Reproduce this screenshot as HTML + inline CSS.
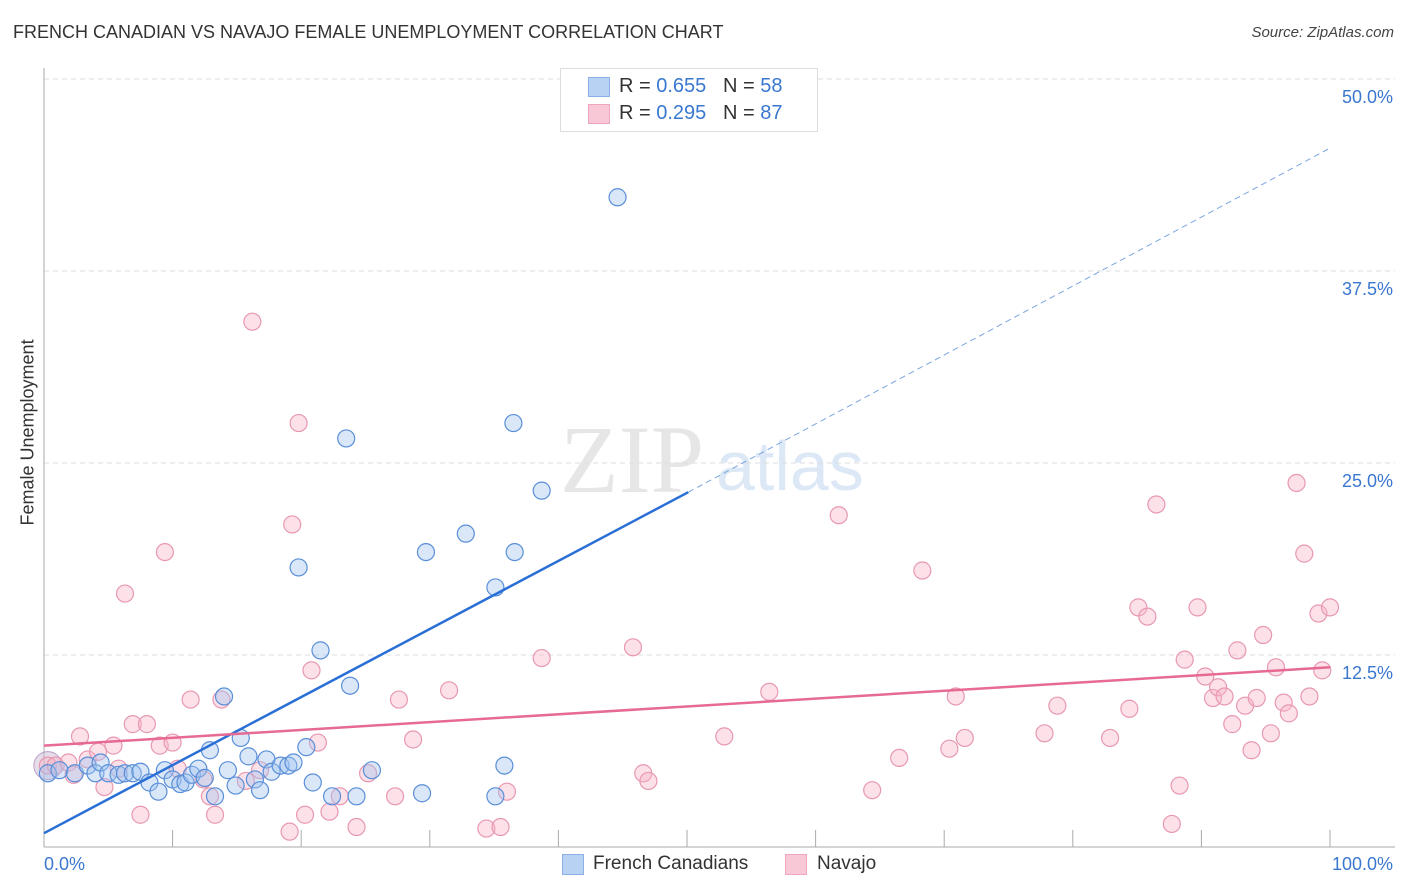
<!DOCTYPE html>
<html><head><meta charset="utf-8"><style>
body{margin:0;background:#fff;font-family:"Liberation Sans",sans-serif;}
#wrap{position:relative;width:1406px;height:892px;overflow:hidden;}
.t{position:absolute;white-space:nowrap;}
</style></head><body>
<div id="wrap">
<div class="t" style="left:13px;top:22px;font-size:18px;color:#333;">FRENCH CANADIAN VS NAVAJO FEMALE UNEMPLOYMENT CORRELATION CHART</div>
<div class="t" style="right:12px;top:24px;font-size:15px;color:#444;font-style:italic;">Source: ZipAtlas.com</div>
<div class="t" style="left:-42px;top:445px;font-size:18px;color:#333;transform:rotate(-90deg);width:140px;text-align:center;">Female Unemployment</div>
<svg id="svg" width="1406" height="892" style="position:absolute;left:0;top:0">
<text x="560" y="492" font-family="Liberation Serif" font-size="96" fill="#e6e6e6">ZIP</text>
<text x="716" y="490" font-family="Liberation Sans" font-size="70" fill="#dce8f6">atlas</text>
</svg>
<div style="position:absolute;left:560px;top:68px;width:256px;height:62px;border:1px solid #ddd;background:#fff;">
<div style="position:absolute;left:27px;top:8px;width:20px;height:18px;background:#b8d2f4;border:1px solid #8ab0e6;"></div>
<div class="t" style="left:58px;top:6px;font-size:20px;color:#333;">R = <span style="color:#3a78d0">0.655</span>&nbsp;&nbsp;&nbsp;N = <span style="color:#3a78d0">58</span></div>
<div style="position:absolute;left:27px;top:35px;width:20px;height:18px;background:#f8c8d6;border:1px solid #eea6bc;"></div>
<div class="t" style="left:58px;top:33px;font-size:20px;color:#333;">R = <span style="color:#3a78d0">0.295</span>&nbsp;&nbsp;&nbsp;N = <span style="color:#3a78d0">87</span></div>
</div>
<div>
<div style="position:absolute;left:562px;top:854px;width:20px;height:19px;background:#b8d2f4;border:1px solid #8ab0e6;"></div>
<div class="t" style="left:593px;top:853px;font-size:19px;color:#333;">French Canadians</div>
<div style="position:absolute;left:785px;top:854px;width:20px;height:19px;background:#f8c8d6;border:1px solid #eea6bc;"></div>
<div class="t" style="left:817px;top:853px;font-size:19px;color:#333;">Navajo</div>
</div>
</div>
<script>
const blueX=[0.3,1.2,2.4,3.4,4.0,4.4,5.0,5.8,6.3,6.9,7.5,8.2,8.9,9.4,10.0,10.6,11.0,11.5,12.0,12.5,12.9,13.3,14.0,14.3,14.9,15.3,15.9,16.4,16.8,17.3,17.7,18.4,19.0,19.4,19.8,20.4,20.9,21.5,22.4,23.5,23.8,24.3,25.5,29.4,29.7,32.8,35.1,35.1,35.8,36.5,36.6,38.7,44.6];
const blueY=[4.8,5.0,4.8,5.3,4.8,5.5,4.8,4.7,4.8,4.8,4.9,4.2,3.6,5.0,4.4,4.1,4.2,4.7,5.1,4.5,6.3,3.3,9.8,5.0,4.0,7.1,5.9,4.4,3.7,5.7,4.9,5.3,5.3,5.5,18.2,6.5,4.2,12.8,3.3,26.6,10.5,3.3,5.0,3.5,19.2,20.4,16.9,3.3,5.3,27.6,19.2,23.2,42.3];
const pinkX=[0.3,0.9,1.9,2.3,2.8,3.4,4.2,4.7,5.4,5.8,6.3,6.9,7.5,8.0,9.0,9.4,10.0,10.4,11.4,12.4,12.9,13.3,13.8,15.7,16.2,16.8,19.1,19.3,19.8,20.3,20.8,21.3,22.2,23.0,24.3,25.2,27.3,27.6,28.7,31.5,34.4,35.5,36.0,38.7,45.8,46.6,47.0,52.9,56.4,61.8,64.4,66.5,68.3,70.4,70.9,71.6,77.8,78.8,82.9,84.4,85.1,85.8,86.5,87.7,88.3,88.7,89.7,90.3,90.9,91.3,91.8,92.4,92.8,93.4,93.9,94.3,94.8,95.4,95.8,96.4,96.8,97.4,98.0,98.4,99.1,99.4,100];
const pinkY=[5.3,5.3,5.5,4.7,7.2,5.7,6.2,3.9,6.6,5.1,16.5,8.0,2.1,8.0,6.6,19.2,6.8,5.1,9.6,4.4,3.3,2.1,9.6,4.3,34.2,5.0,1.0,21.0,27.6,2.1,11.5,6.8,2.3,3.3,1.3,4.8,3.3,9.6,7.0,10.2,1.2,1.3,3.6,12.3,13.0,4.8,4.3,7.2,10.1,21.6,3.7,5.8,18.0,6.4,9.8,7.1,7.4,9.2,7.1,9.0,15.6,15.0,22.3,1.5,4.0,12.2,15.6,11.1,9.7,10.4,9.8,8.0,12.8,9.2,6.3,9.7,13.8,7.4,11.7,9.4,8.7,23.7,19.1,9.8,15.2,11.5,15.6];
const yTicks=[12.5,25.0,37.5,50.0];
const yTickLabels=["12.5%","25.0%","37.5%","50.0%"];
const xTickLabels=["0.0%","100.0%"];
const blueTrend=[0.0,0.9,50.1,23.1,100,45.5];
const pinkTrend=[0,6.6,100,11.7];

const X0=44,X1=1330,Y0=847,YPX=15.36;
const sx=v=>X0+(X1-X0)*v/100;
const sy=v=>Y0-v*YPX;
const svg=document.getElementById('svg');
const NS='http://www.w3.org/2000/svg';
function mk(t,a){const e=document.createElementNS(NS,t);for(const k in a)e.setAttribute(k,a[k]);svg.appendChild(e);return e;}
yTicks.forEach((v,i)=>{
 const g=mk('line',{x1:X0,x2:1395,y1:sy(v),y2:sy(v),stroke:'#ddd','stroke-dasharray':'5,4'});
 
 
 const t=mk('text',{x:1393,y:sy(v)+24,'text-anchor':'end','font-size':18,fill:'#3a78d0','font-family':'Liberation Sans'});
 t.textContent=yTickLabels[i];
 
 
});
const ax=mk('line',{x1:X0,x2:X0,y1:68,y2:Y0,stroke:'#aaa'});


const bx=mk('line',{x1:X0,x2:1395,y1:Y0,y2:Y0,stroke:'#aaa'});


for(let i=1;i<=10;i++){
 const tk=mk('line',{x1:sx(i*10),x2:sx(i*10),y1:Y0-17,y2:Y0,stroke:'#aaa'});
 
 
}
[[0,'start',44],[100,'end',1393]].forEach((a,i)=>{
 const t=mk('text',{x:a[2],y:870,'text-anchor':a[1],'font-size':18,fill:'#3a78d0','font-family':'Liberation Sans'});
 t.textContent=xTickLabels[i];
 
 
});
const big=mk('circle',{cx:sx(0.3),cy:sy(5.3),r:14,fill:'rgba(200,180,210,0.45)',stroke:'#b8a0c8'});


function pts(xs,ys,fill,stroke,name){xs.forEach((x,i)=>{
 const c=mk('circle',{cx:sx(x),cy:sy(ys[i]),r:8.5,fill:fill,stroke:stroke,'stroke-width':1.2});
 
 
});}
pts(pinkX,pinkY,'rgba(248,180,200,0.4)','#e898b0','navajo-point');
pts(blueX,blueY,'rgba(160,196,240,0.4)','#5a8fd8','french-canadian-point');
const b1=mk('line',{x1:sx(blueTrend[0]),y1:sy(blueTrend[1]),x2:sx(blueTrend[2]),y2:sy(blueTrend[3]),stroke:'#2a6fd6','stroke-width':2.5});


const b2=mk('line',{x1:sx(blueTrend[2]),y1:sy(blueTrend[3]),x2:sx(blueTrend[4]),y2:sy(blueTrend[5]),stroke:'#7aa6e0','stroke-width':1,'stroke-dasharray':'6,4'});


const p1=mk('line',{x1:sx(pinkTrend[0]),y1:sy(pinkTrend[1]),x2:sx(pinkTrend[2]),y2:sy(pinkTrend[3]),stroke:'#e66a94','stroke-width':2.5});


</script>
</body></html>
